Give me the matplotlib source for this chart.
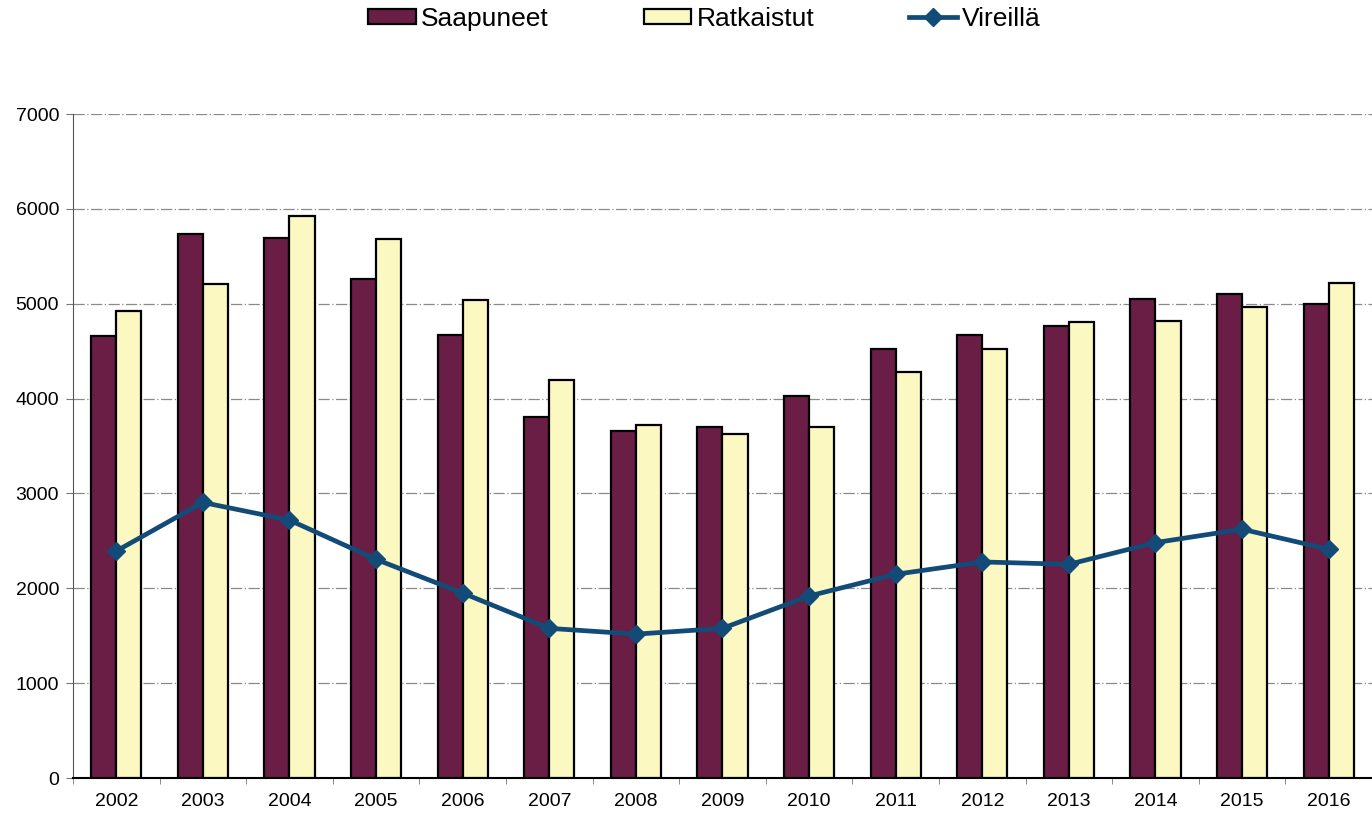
import matplotlib.pyplot as plt
import numpy as np

plt.rcParams['font.family'] = ['Liberation Sans', 'DejaVu Sans']

years = ['2002', '2003', '2004', '2005', '2006', '2007', '2008', '2009',
         '2010', '2011', '2012', '2013', '2014', '2015', '2016']
saapuneet = [4660, 5733, 5694, 5258, 4670, 3806, 3658, 3700,
             4027, 4522, 4668, 4763, 5053, 5105, 4996]
ratkaistut = [4926, 5208, 5929, 5683, 5039, 4193, 3718, 3630,
              3700, 4281, 4524, 4806, 4813, 4967, 5222]
vireilla = [2393, 2905, 2719, 2305, 1950, 1578, 1517, 1578,
            1919, 2148, 2278, 2253, 2482, 2623, 2412]

fig = plt.figure(figsize=(13.72, 8.14), dpi=100)
ax = fig.add_axes([0.0532, 0.0442, 0.9468, 0.8157])

x = np.arange(len(years))
w = 0.29

b1 = ax.bar(x - w / 2, saapuneet, w, color='#6b1e45', edgecolor='black',
            linewidth=1.6, label='Saapuneet', zorder=3)
b2 = ax.bar(x + w / 2, ratkaistut, w, color='#fbf8c2', edgecolor='black',
            linewidth=1.6, label='Ratkaistut', zorder=3)
ln, = ax.plot(x, vireilla, color='#124a78', linewidth=3.4, marker='D',
              markersize=9, label='Vireillä', zorder=4)

ax.set_ylim(0, 7000)
ax.set_yticks(range(0, 7001, 1000))
ax.set_xlim(-0.5, 14.43)
ax.set_xticks(x)
ax.set_xticklabels(years)
ax.set_xticks(np.arange(-0.5, 15, 1), minor=True)
ax.tick_params(axis='x', which='major', length=0, pad=11, labelsize=14)
ax.tick_params(axis='x', which='minor', length=4, color='#777777')
ax.tick_params(axis='y', length=5, color='#777777', labelsize=14, pad=5)

ax.yaxis.grid(True, color='#8a8a8a', linestyle=(0, (9, 2, 1, 2)),
              linewidth=0.9, zorder=0)
ax.set_axisbelow(True)

for s in ['top', 'right']:
    ax.spines[s].set_visible(False)
ax.spines['left'].set_color('#555555')
ax.spines['bottom'].set_color('black')
ax.spines['bottom'].set_linewidth(1.5)

fig.legend(handles=[b1, b2, ln], loc='center', bbox_to_anchor=(0.5135, 0.977),
           ncol=3, frameon=False, fontsize=19, columnspacing=3.6,
           handlelength=1.8, handletextpad=0.2, handleheight=0.5,
           borderpad=0.1)

fig.savefig('out.png', dpi=100)
